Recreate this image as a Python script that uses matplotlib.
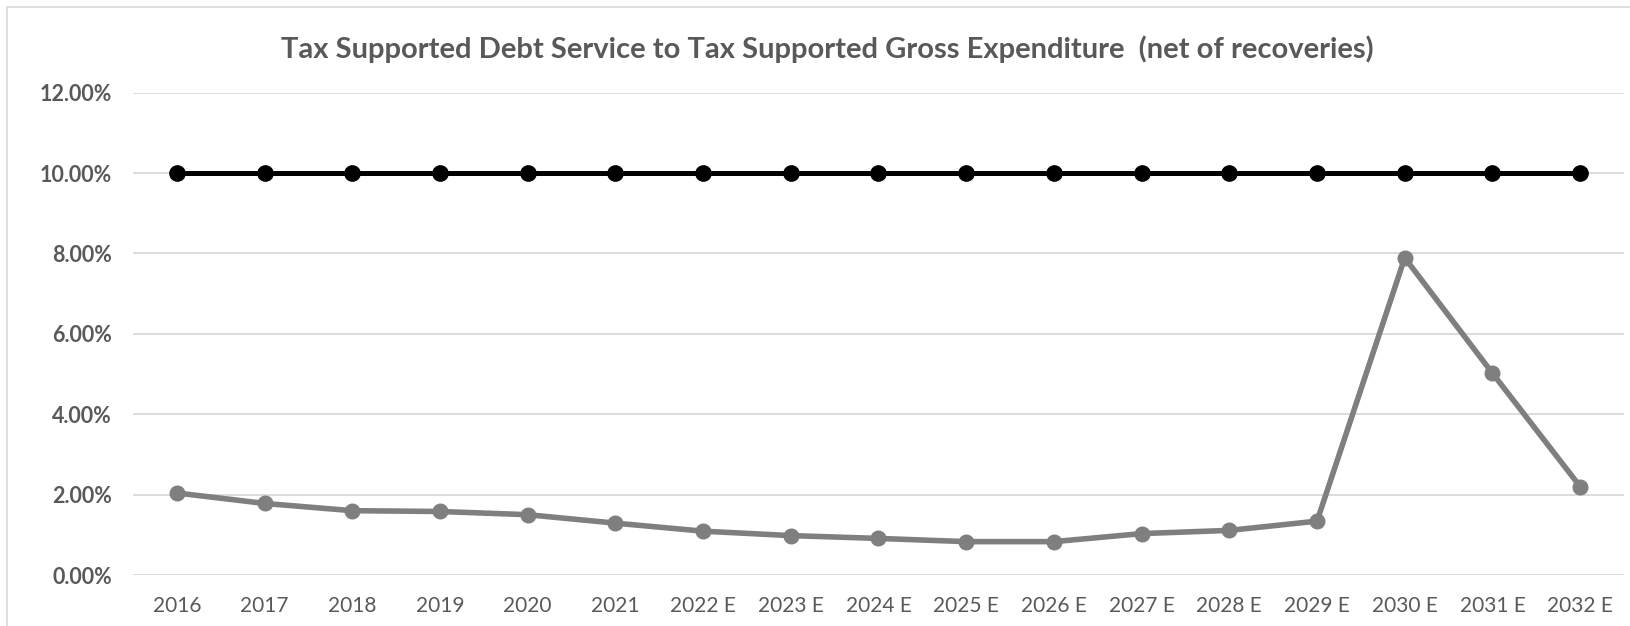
import numpy as np
import matplotlib
matplotlib.use("Agg")
import matplotlib.pyplot as plt
from matplotlib.patches import Rectangle
from matplotlib.ticker import FuncFormatter, MultipleLocator

# ---- data ----
years = ["2016", "2017", "2018", "2019", "2020", "2021", "2022 E", "2023 E",
         "2024 E", "2025 E", "2026 E", "2027 E", "2028 E", "2029 E",
         "2030 E", "2031 E", "2032 E"]
debt_ratio = [2.04, 1.78, 1.60, 1.58, 1.50, 1.29, 1.09, 0.98, 0.91, 0.83,
              0.83, 1.03, 1.11, 1.34, 7.89, 5.02, 2.20]
policy_limit = [10.0] * len(years)

title = "Tax Supported Debt Service to Tax Supported Gross Expenditure  (net of recoveries)"

# ---- styling ----
TEXT_C = "#595959"
GRID_C = "#d9d9d9"
plt.rcParams["font.family"] = ["Lato", "DejaVu Sans"]

W, H = 1631, 626
fig = plt.figure(figsize=(W / 100, H / 100), dpi=100)
ax = fig.add_axes([133 / W, 1 - 575 / H, (1624 - 133) / W, (575 - 92.6) / H])

x = np.arange(len(years))
ax.plot(x, policy_limit, color="black", linewidth=3.6, marker="o",
        markersize=11, zorder=3)
ax.plot(x, debt_ratio, color="#7f7f7f", linewidth=4.0, marker="o",
        markersize=10.5, zorder=3)

ax.set_xlim(-0.5, len(years) - 0.5)
ax.set_ylim(0, 12)
ax.yaxis.set_major_locator(MultipleLocator(2))
ax.yaxis.set_major_formatter(FuncFormatter(lambda v, _: f"{v:.2f}%"))
ax.set_xticks(x)
ax.set_xticklabels(years)

ax.grid(axis="y", color=GRID_C, linewidth=1.3)
ax.set_axisbelow(True)
for s in ax.spines.values():
    s.set_visible(False)
ax.tick_params(length=0)
ax.tick_params(axis="y", labelsize=15.5, labelcolor=TEXT_C, pad=15)
ax.tick_params(axis="x", labelsize=15, labelcolor=TEXT_C, pad=15)
for lbl in ax.get_yticklabels():
    lbl.set_fontweight("bold")

fig.text(827 / W, 1 - 49 / H, title, ha="center", va="center",
         fontsize=21, fontweight="bold", color=TEXT_C)

# chart frame
fig.patches.append(Rectangle((7 / W, -0.2), 1.2, 1.2 - 7 / H,
                             transform=fig.transFigure, fill=False,
                             edgecolor=GRID_C, linewidth=1.2))

fig.savefig("out.png", dpi=100)
